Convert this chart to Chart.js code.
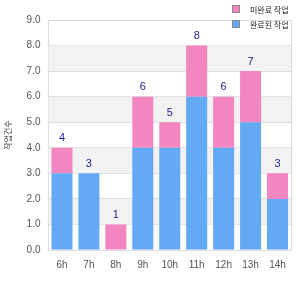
<!DOCTYPE html>
<html>
<head>
<meta charset="utf-8">
<script src="https://cdn.jsdelivr.net/npm/chart.js@4"></script>
<style>
  html,body{margin:0;padding:0;background:#fff;}
  #wrap{width:300px;height:300px;position:relative;}
</style>
</head>
<body>
<div id="wrap"><canvas id="c" width="300" height="300"></canvas></div>
<script>
// data
const hours = ['6h','7h','8h','9h','10h','11h','12h','13h','14h'];
const doneTasks = [3,3,0,4,4,6,4,5,2];
const openTasks = [1,0,1,2,1,2,2,2,1];
const yTicks = [0,1,2,3,4,5,6,7,8,9];
const seriesNames = ['미완료 작업','완료된 작업'];
const yTitle = '작업건수';

const BLUE = '#63a9f3', PINK = '#f385c0';
const FONT = '"Liberation Sans", Arial, sans-serif';

// alternating bands + right border
const bands = {
  id:'bands',
  beforeDatasetsDraw(chart){
    const {ctx, chartArea:a, scales:{y}} = chart;
    ctx.save();
    ctx.fillStyle = '#f2f2f2';
    for (let i=1;i<yTicks.length-1;i+=2){
      const y0 = y.getPixelForValue(yTicks[i]), y1 = y.getPixelForValue(yTicks[i+1]);
      ctx.fillRect(a.left, y1, a.right-a.left, y0-y1);
    }
    ctx.strokeStyle = '#dcdcdc'; ctx.lineWidth = 1;
    ctx.beginPath();
    ctx.moveTo(Math.round(a.right)+0.5, a.top); ctx.lineTo(Math.round(a.right)+0.5, a.bottom);
    ctx.stroke();
    ctx.restore();
  }
};

// totals above stacks
const totals = {
  id:'totals',
  afterDatasetsDraw(chart){
    const {ctx, scales:{x,y}} = chart;
    ctx.save();
    ctx.fillStyle = '#23238f';
    ctx.font = '11px ' + FONT;
    ctx.textAlign = 'center'; ctx.textBaseline = 'bottom';
    hours.forEach((h,i)=>{
      const t = doneTasks[i] + openTasks[i];
      ctx.fillText(String(t), x.getPixelForValue(i), y.getPixelForValue(t) - 4);
    });
    ctx.restore();
  }
};

// legend top right, one row per series
const legendBox = {
  id:'legendBox',
  afterDraw(chart){
    const {ctx} = chart;
    const cols = [PINK, BLUE];
    ctx.save();
    ctx.font = '8px "Noto Sans CJK KR", sans-serif';
    ctx.textBaseline = 'middle';
    seriesNames.forEach((n,i)=>{
      const bx = 232, by = 5 + i*15;
      ctx.fillStyle = cols[i];
      ctx.fillRect(bx, by, 8, 8);
      ctx.strokeStyle = '#888'; ctx.lineWidth = 1;
      ctx.strokeRect(bx+0.5, by+0.5, 7, 7);
      ctx.fillStyle = '#222';
      ctx.fillText(n, 250, by + 4.5);
    });
    ctx.restore();
  }
};

new Chart(document.getElementById('c'), {
  type:'bar',
  data:{
    labels: hours,
    datasets:[
      {label: seriesNames[1], data: doneTasks, backgroundColor: BLUE, barPercentage:0.78, categoryPercentage:1},
      {label: seriesNames[0], data: openTasks, backgroundColor: PINK, barPercentage:0.78, categoryPercentage:1}
    ]
  },
  options:{
    responsive:false, animation:false,
    layout:{padding:{top:20, right:9, left:3, bottom:28}},
    plugins:{legend:{display:false}, tooltip:{enabled:false}},
    scales:{
      x:{
        stacked:true,
        grid:{display:false},
        border:{color:'#dcdcdc'},
        ticks:{color:'#555', font:{family:FONT, size:10}, padding:1}
      },
      y:{
        stacked:true, min:0, max:9,
        afterBuildTicks(s){ s.ticks = yTicks.map(v=>({value:v})); },
        grid:{color:'#dcdcdc', drawTicks:false},
        border:{color:'#dcdcdc'},
        ticks:{color:'#555', font:{family:FONT, size:10}, padding:8, callback:v=>Number(v).toFixed(1)},
        title:{display:true, text:yTitle, color:'#333', font:{family:'"Noto Sans CJK KR", sans-serif', size:8}, padding:{top:0,bottom:6}}
      }
    }
  },
  plugins:[bands, totals, legendBox]
});
</script>
</body>
</html>
